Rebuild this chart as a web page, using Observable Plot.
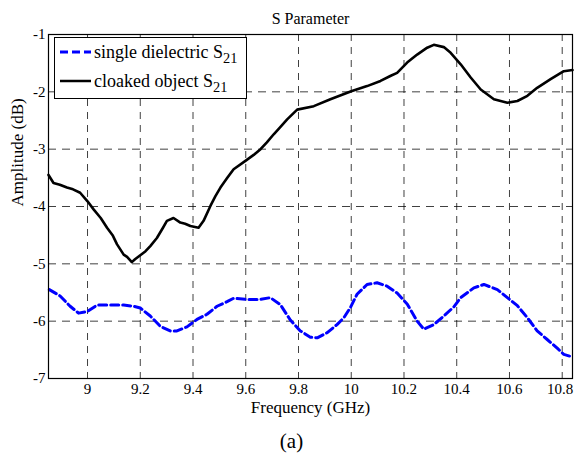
<!DOCTYPE html>
<html><head><meta charset="utf-8">
<script src="https://cdn.jsdelivr.net/npm/d3@7"></script>
<script src="https://cdn.jsdelivr.net/npm/@observablehq/plot@0.6"></script>
<style>
body{margin:0;background:#fff;}
#wrap{position:relative;width:574px;height:455px;font-family:'Liberation Serif','Times New Roman',serif;}
#legend{position:absolute;left:54px;top:37px;width:191px;height:60px;border:1px solid #000;background:#fff;}
.row{position:absolute;left:4px;height:26px;display:flex;align-items:center;font-size:18px;white-space:nowrap;font-family:'Liberation Serif','Times New Roman',serif;}
.row svg{margin-right:3px;}
.row .sub{font-size:0.8em;position:relative;top:0.4em;}
</style></head><body><div id="wrap"></div>
<script>
const cloakedFreq = [8.852,8.871,8.895,8.922,8.945,8.972,9.000,9.023,9.050,9.074,9.095,9.112,9.137,9.150,9.168,9.180,9.200,9.220,9.238,9.263,9.285,9.301,9.326,9.352,9.370,9.390,9.421,9.440,9.466,9.485,9.504,9.530,9.554,9.600,9.630,9.656,9.680,9.706,9.730,9.757,9.795,9.858,9.921,10.000,10.060,10.111,10.150,10.174,10.212,10.250,10.288,10.313,10.351,10.377,10.415,10.453,10.491,10.541,10.592,10.630,10.668,10.705,10.756,10.806,10.839];
const cloakedDb = [-3.45,-3.59,-3.62,-3.67,-3.70,-3.76,-3.91,-4.05,-4.20,-4.37,-4.50,-4.66,-4.84,-4.88,-4.97,-4.92,-4.85,-4.78,-4.69,-4.55,-4.38,-4.25,-4.20,-4.28,-4.30,-4.34,-4.37,-4.25,-3.99,-3.82,-3.67,-3.50,-3.35,-3.20,-3.10,-3.00,-2.88,-2.74,-2.62,-2.48,-2.31,-2.25,-2.13,-1.99,-1.90,-1.81,-1.72,-1.67,-1.49,-1.35,-1.23,-1.18,-1.22,-1.32,-1.52,-1.75,-1.96,-2.13,-2.19,-2.16,-2.07,-1.93,-1.78,-1.64,-1.62];
const dielFreq = [8.855,8.896,8.934,8.966,9.000,9.036,9.086,9.137,9.175,9.200,9.238,9.276,9.314,9.339,9.377,9.415,9.453,9.491,9.529,9.554,9.605,9.655,9.693,9.731,9.769,9.807,9.845,9.871,9.909,9.946,9.972,9.997,10.022,10.060,10.098,10.136,10.174,10.212,10.250,10.275,10.313,10.351,10.389,10.415,10.465,10.503,10.554,10.592,10.630,10.668,10.705,10.743,10.781,10.806,10.836];
const dielDb = [-5.45,-5.56,-5.74,-5.86,-5.83,-5.72,-5.72,-5.72,-5.74,-5.77,-5.91,-6.09,-6.17,-6.17,-6.10,-5.97,-5.88,-5.74,-5.66,-5.60,-5.62,-5.62,-5.59,-5.71,-5.98,-6.17,-6.28,-6.29,-6.20,-6.06,-5.94,-5.76,-5.53,-5.36,-5.33,-5.39,-5.51,-5.70,-6.00,-6.14,-6.06,-5.91,-5.75,-5.59,-5.42,-5.36,-5.45,-5.59,-5.73,-5.94,-6.17,-6.32,-6.47,-6.58,-6.62];
const xTicks = [9,9.2,9.4,9.6,9.8,10,10.2,10.4,10.6,10.8];
const yTicks = [-7,-6,-5,-4,-3,-2,-1];
const seriesNames = ["single dielectric", "cloaked object"];
const titleText = "S Parameter";
const xLabel = "Frequency (GHz)";
const yLabel = "Amplitude (dB)";
const captionText = "(a)";

const cloaked = cloakedFreq.map((f,i)=>({f, db: cloakedDb[i]}));
const diel = dielFreq.map((f,i)=>({f, db: dielDb[i]}));
const font = "'Liberation Serif','Times New Roman',serif";
const lastTick = xTicks[xTicks.length - 1];

const chart = Plot.plot({
  width: 574, height: 455,
  marginLeft: 48, marginRight: 2, marginTop: 34, marginBottom: 77,
  style: {fontFamily: font, fontSize: "15px", background: "#fff", color: "#000"},
  x: {domain: [8.852, 10.839]},
  y: {domain: [-7, -1]},
  marks: [
    Plot.gridX(xTicks, {stroke: "#000", strokeOpacity: 0.75, strokeDasharray: "7,6"}),
    Plot.gridY(yTicks, {stroke: "#000", strokeOpacity: 0.75, strokeDasharray: "8,6"}),
    Plot.line(diel, {x: "f", y: "db", stroke: "#0000ff", strokeWidth: 3, strokeDasharray: "8,4", strokeLinejoin: "round"}),
    Plot.line(cloaked, {x: "f", y: "db", stroke: "#000", strokeWidth: 2.6, strokeLinejoin: "round"}),
    Plot.frame({stroke: "#000", strokeWidth: 1.2}),
    Plot.axisX(xTicks.slice(0, -1), {tickSize: 0, tickPadding: 5, tickFormat: d => String(d), label: null, fontSize: 15}),
    Plot.axisX([lastTick], {tickSize: 0, tickPadding: 5, tickFormat: d => String(d), label: null, fontSize: 15, dx: -2}),
    Plot.axisY(yTicks, {tickSize: 0, tickPadding: 3, tickFormat: d => String(d), label: null, fontSize: 15}),
    Plot.text([titleText], {text: d => d, frameAnchor: "top", dy: -16, fontSize: 16, lineAnchor: "middle"}),
    Plot.text([xLabel], {text: d => d, frameAnchor: "bottom", dy: 29, fontSize: 17, lineAnchor: "middle"}),
    Plot.text([captionText], {text: d => d, frameAnchor: "bottom", dx: -19, dy: 63, fontSize: 21, lineAnchor: "middle"}),
    Plot.text([yLabel], {text: d => d, frameAnchor: "left", dx: -31, rotate: -90, fontSize: 17, lineAnchor: "middle"})
  ]
});
const wrap = document.getElementById("wrap");
wrap.appendChild(chart);

const legend = document.createElement("div");
legend.id = "legend";
legend.innerHTML = `
<div class="row" style="top:1px"><svg width="32" height="6"><line x1="1" y1="3" x2="32" y2="3" stroke="#0000ff" stroke-width="3" stroke-dasharray="8,4"/></svg><span>${seriesNames[0]} S<span class="sub">21</span></span></div>
<div class="row" style="top:30px"><svg width="32" height="6"><line x1="1" y1="3" x2="32" y2="3" stroke="#000" stroke-width="2.5"/></svg><span>${seriesNames[1]} S<span class="sub">21</span></span></div>`;
wrap.appendChild(legend);
</script>
</body></html>
